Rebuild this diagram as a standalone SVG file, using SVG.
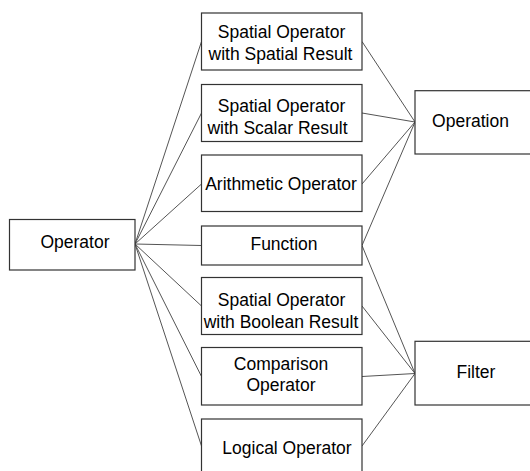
<svg xmlns="http://www.w3.org/2000/svg" width="530" height="471" viewBox="0 0 530 471">
<style>
.box{fill:#fff;stroke:#333;stroke-width:1.2}
.t{font-family:"Liberation Sans",Arial,sans-serif;font-size:17.5px;fill:#000;text-anchor:middle}
.c{stroke:#555;stroke-width:1;fill:none}
</style>
<rect width="530" height="471" fill="#fff"/>
<g id="connectors">
<line class="c" x1="135" y1="244" x2="201.5" y2="41.5"/>
<line class="c" x1="135" y1="244" x2="201.5" y2="113"/>
<line class="c" x1="135" y1="244" x2="201.5" y2="184"/>
<line class="c" x1="135" y1="244" x2="201.5" y2="245.5"/>
<line class="c" x1="135" y1="244" x2="201.5" y2="306"/>
<line class="c" x1="135" y1="244" x2="201.5" y2="376.5"/>
<line class="c" x1="135" y1="244" x2="201.5" y2="446"/>
<line class="c" x1="362" y1="41.5" x2="415" y2="122"/>
<line class="c" x1="362" y1="113" x2="415" y2="122"/>
<line class="c" x1="362" y1="184" x2="415" y2="122"/>
<line class="c" x1="362" y1="245.5" x2="415" y2="122"/>
<line class="c" x1="362" y1="245.5" x2="415" y2="373.5"/>
<line class="c" x1="362" y1="306" x2="415" y2="373.5"/>
<line class="c" x1="362" y1="376.5" x2="415" y2="373.5"/>
<line class="c" x1="362" y1="446" x2="415" y2="373.5"/>
</g>
<g id="operator">
<rect class="box" x="9.5" y="219.5" width="125.5" height="50.5"/>
<text class="t" x="75" y="248">Operator</text>
</g>
<g id="spatial-spatial">
<rect class="box" x="201.5" y="13" width="160.5" height="57"/>
<text class="t" x="281.5" y="38.3">Spatial Operator</text>
<text class="t" x="280.5" y="60">with Spatial Result</text>
</g>
<g id="spatial-scalar">
<rect class="box" x="201.5" y="84.5" width="160.5" height="57"/>
<text class="t" x="281.5" y="111.7">Spatial Operator</text>
<text class="t" x="277.5" y="133.5">with Scalar Result</text>
</g>
<g id="arithmetic">
<rect class="box" x="201.5" y="155" width="160.5" height="56.5"/>
<text class="t" x="281" y="189.5">Arithmetic Operator</text>
</g>
<g id="function">
<rect class="box" x="201.5" y="226" width="160.5" height="39"/>
<text class="t" x="284" y="250">Function</text>
</g>
<g id="spatial-boolean">
<rect class="box" x="201.5" y="277.5" width="160.5" height="57"/>
<text class="t" x="281.5" y="306">Spatial Operator</text>
<text class="t" x="281" y="327.5">with Boolean Result</text>
</g>
<g id="comparison">
<rect class="box" x="201.5" y="347.5" width="160.5" height="57.5"/>
<text class="t" x="281" y="369.5">Comparison</text>
<text class="t" x="281" y="391">Operator</text>
</g>
<g id="logical">
<rect class="box" x="201.5" y="419" width="160.5" height="56"/>
<text class="t" x="287" y="453.5">Logical Operator</text>
</g>
<g id="operation">
<rect class="box" x="415" y="90.7" width="120" height="63.3"/>
<text class="t" x="470.5" y="126.7">Operation</text>
</g>
<g id="filter">
<rect class="box" x="415" y="341.3" width="120" height="63.7"/>
<text class="t" x="476" y="377.7">Filter</text>
</g>
</svg>
